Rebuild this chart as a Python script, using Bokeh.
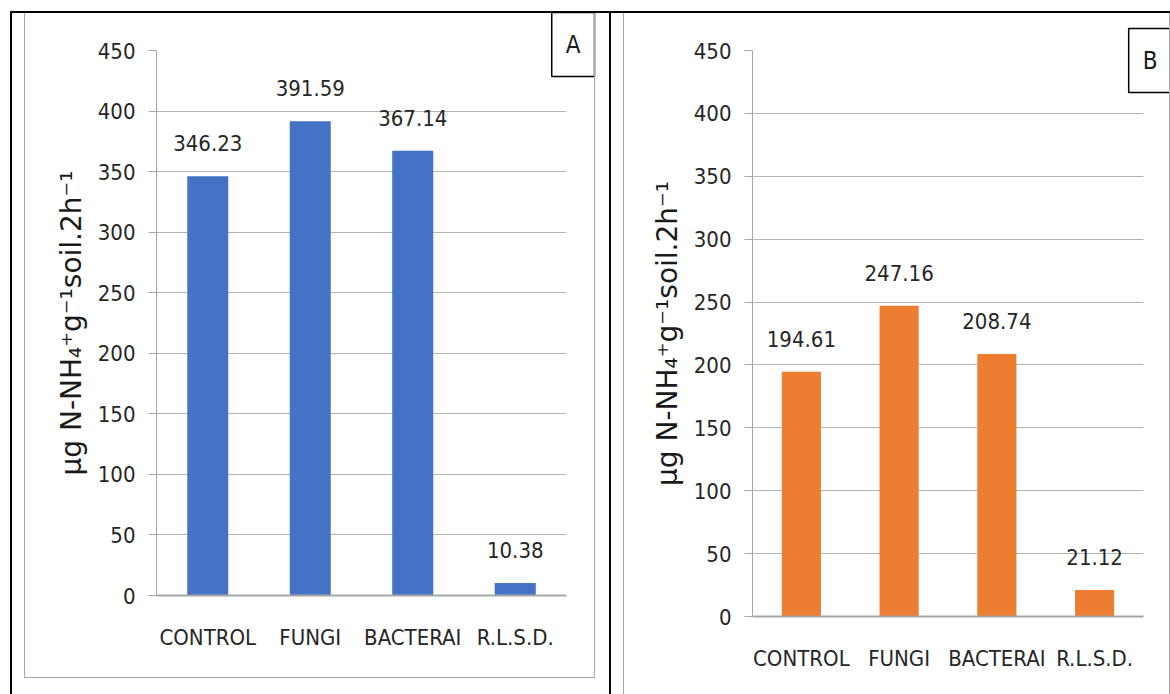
from bokeh.plotting import figure
from bokeh.models import ColumnDataSource, FixedTicker, Title
from bokeh.embed import file_html
from bokeh.resources import INLINE
from bokeh.core.properties import value

categories = ["CONTROL", "FUNGI", "BACTERAI", "R.L.S.D."]
values_a = [346.23, 391.59, 367.14, 10.38]
values_b = [194.61, 247.16, 208.74, 21.12]
y_ticks = [0, 50, 100, 150, 200, 250, 300, 350, 400, 450]
y_label = "μg N-NH₄⁺g⁻¹soil.2h⁻¹"
panel_letters = ["A", "B"]

NARROW = "DejaVu Sans Condensed, Liberation Sans, sans-serif"
GRID = "#b3b3b3"
AXIS = "#a6a6a6"
H = 694


def make_panel(vals, color, width, left, right, bottom, letter, title_offset,
               title_standoff, css, styles):
    p = figure(x_range=categories, y_range=(0, 450), width=width, height=H,
               output_backend="svg", toolbar_location=None,
               min_border_left=left, min_border_right=right,
               min_border_top=50, min_border_bottom=bottom,
               stylesheets=[css], styles=styles)
    p.outline_line_color = None
    p.background_fill_color = "white"
    p.border_fill_color = "white"

    src = ColumnDataSource(dict(cat=categories, val=vals,
                                lab=["%.2f" % v for v in vals]))
    p.vbar(x="cat", top="val", width=0.4, source=src, fill_color=color, line_color=None)
    p.text(x="cat", y="val", text="lab", source=src, text_align="center",
           text_baseline="middle", y_offset=-33, text_font=value(NARROW),
           text_font_size="22px", text_color="#262626")

    ya = p.yaxis[0]
    ya.ticker = FixedTicker(ticks=y_ticks)
    ya.axis_line_color = AXIS
    ya.major_tick_line_color = AXIS
    ya.major_tick_out = 8
    ya.major_tick_in = 0
    ya.minor_tick_line_color = None
    ya.major_label_text_font = NARROW
    ya.major_label_text_font_size = "22px"
    ya.major_label_text_color = "#262626"
    ya.major_label_standoff = 13
    ya.axis_label = y_label
    ya.axis_label_text_font = "DejaVu Sans"
    ya.axis_label_text_font_style = "normal"
    ya.axis_label_text_font_size = "28px"
    ya.axis_label_text_color = "#1a1a1a"
    ya.axis_label_standoff = 7

    xa = p.xaxis[0]
    xa.axis_line_color = AXIS
    xa.axis_line_width = 2
    xa.major_tick_line_color = None
    xa.major_tick_out = 0
    xa.major_tick_in = 0
    xa.minor_tick_line_color = None
    xa.major_label_text_font = NARROW
    xa.major_label_text_font_size = "22px"
    xa.major_label_text_color = "#262626"
    xa.major_label_standoff = 29

    p.xgrid.grid_line_color = None
    p.ygrid.grid_line_color = GRID
    p.ygrid.ticker = FixedTicker(ticks=y_ticks)

    p.add_layout(Title(text=letter, align="right", offset=title_offset,
                       standoff=title_standoff, vertical_align="bottom",
                       text_font=NARROW, text_font_size="24px",
                       text_font_style="normal", text_color="#1a1a1a",
                       border_line_color="black", border_line_width=1.5,
                       background_fill_color="white", padding=(14, 18)), "above")
    return p


css_a = """
:host::before { content: ""; position: absolute; left: 10px; top: 11px; width: 601px; height: 683px;
  border-top: 2px solid black; border-left: 2px solid black; border-right: 2px solid black;
  box-sizing: border-box; pointer-events: none; z-index: 6; }
:host::after { content: ""; position: absolute; left: 24px; top: 12px; width: 571px; height: 666px;
  border: 1px solid #a6a6a6; box-sizing: border-box; pointer-events: none; z-index: 5; }
"""
css_b = """
:host::before { content: ""; position: absolute; left: 0px; top: 11px; width: 559px; height: 2px;
  background: black; pointer-events: none; z-index: 6; }
:host::after { content: ""; position: absolute; left: 12px; top: 12px; width: 547px; height: 682px;
  border-left: 1px solid #a6a6a6; border-right: 1px solid #a6a6a6;
  box-sizing: border-box; pointer-events: none; z-index: 5; }
"""

pa = make_panel(values_a, "#4472C4", 611, 156, 45, 99, panel_letters[0], -28, -52, css_a,
                {"position": "absolute", "left": "0px", "top": "0px"})
pb = make_panel(values_b, "#ED7D31", 559, 141, 27, 78, panel_letters[1], -28, -84, css_b,
                {"position": "absolute", "left": "611px", "top": "0px"})

open("out.html", "w").write(file_html([pa, pb], INLINE))
